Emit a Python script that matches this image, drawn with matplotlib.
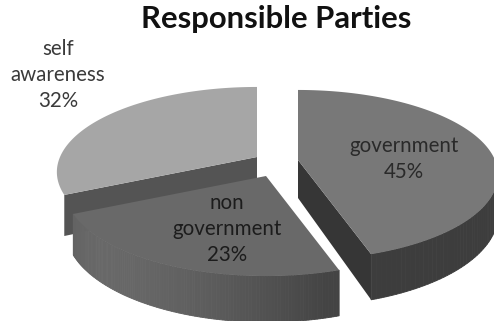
import numpy as np
import matplotlib
matplotlib.use('Agg')
import matplotlib.pyplot as plt
from matplotlib.patches import Polygon

# shares of each party, clockwise from 12 o'clock
names = ['government', 'non\ngovernment', 'self\nawareness']
shares = [45, 23, 32]

# pixel position of each slice's tip after exploding, and colours
apex_x = [298, 266, 257]
apex_y = [160, 176, 157]
top_grey = [0.47, 0.41, 0.65]
cut_grey = [0.21, 0.21, 0.33]
wall_grey = [0.33, 0.37, None]
label_x = [404, 227, 58]
label_y = [159, 229, 75]
label_col = ['#2a2a2a', '#1c1c1c', '#3a3a3a']

R = 197.0
RY = 82.4
PERSP = 5.67
DEPTH = 38.0


def project(theta):
    # plane of the pie to screen offset, nearer points get bigger
    u = np.sin(theta)
    v = np.cos(theta)
    s = PERSP / (PERSP + v)
    return R * u * s, -RY * v * s, s


fig = plt.figure(figsize=(4.94, 3.21), dpi=100)
ax = fig.add_axes([0, 0, 1, 1])
ax.set_xlim(0, 494)
ax.set_ylim(321, 0)
ax.axis('off')

edges = np.radians(np.cumsum([0] + shares) * 3.6)

# back slice first so the nearer ones paint over it
for i in [2, 1, 0]:
    t0, t1 = edges[i], edges[i + 1]
    cx, cy = apex_x[i], apex_y[i]
    base = 3 * (2 - i)
    ths = np.linspace(t0, t1, 120)
    dx, dy, s = project(ths)
    rim = np.column_stack([cx + dx, cy + dy])

    # cut faces that turn towards the viewer
    for th, front in [(t0, np.sin(t0) < -1e-9), (t1, np.sin(t1) > 1e-9)]:
        if not front:
            continue
        ex, ey, es = project(th)
        face = [(cx, cy), (cx + ex, cy + ey),
                (cx + ex, cy + ey + DEPTH * es), (cx, cy + DEPTH)]
        ax.add_patch(Polygon(face, closed=True, fc=str(cut_grey[i]), ec='none', zorder=2 + base))

    # outer wall, split in strips for the shading
    if wall_grey[i] is not None:
        for k in range(len(ths) - 1):
            if np.cos(ths[k]) > 0.02:
                continue
            factor = max(0.72 + 0.38 * np.cos(1.5 * (ths[k] - np.radians(225))), 0.72)
            shade = str(wall_grey[i] * factor)
            quad = [rim[k], rim[k + 1],
                    (rim[k + 1][0], rim[k + 1][1] + DEPTH * s[k + 1]),
                    (rim[k][0], rim[k][1] + DEPTH * s[k])]
            ax.add_patch(Polygon(quad, closed=True, fc=shade, ec=shade, lw=0.6, zorder=3 + base))

    top = np.vstack([[cx, cy], rim])
    ax.add_patch(Polygon(top, closed=True, fc=str(top_grey[i]), ec='none', zorder=4 + base))

    ax.text(label_x[i], label_y[i], '%s\n%d%%' % (names[i], shares[i]), ha='center', va='center',
            fontsize=14.8, family='Lato', color=label_col[i], linespacing=1.4, zorder=20)

ax.text(276, 19, 'Responsible Parties', ha='center', va='center', fontsize=22.3,
        family='Lato', fontweight='bold', color='#111111', zorder=20)

fig.savefig('out.png', dpi=100)
